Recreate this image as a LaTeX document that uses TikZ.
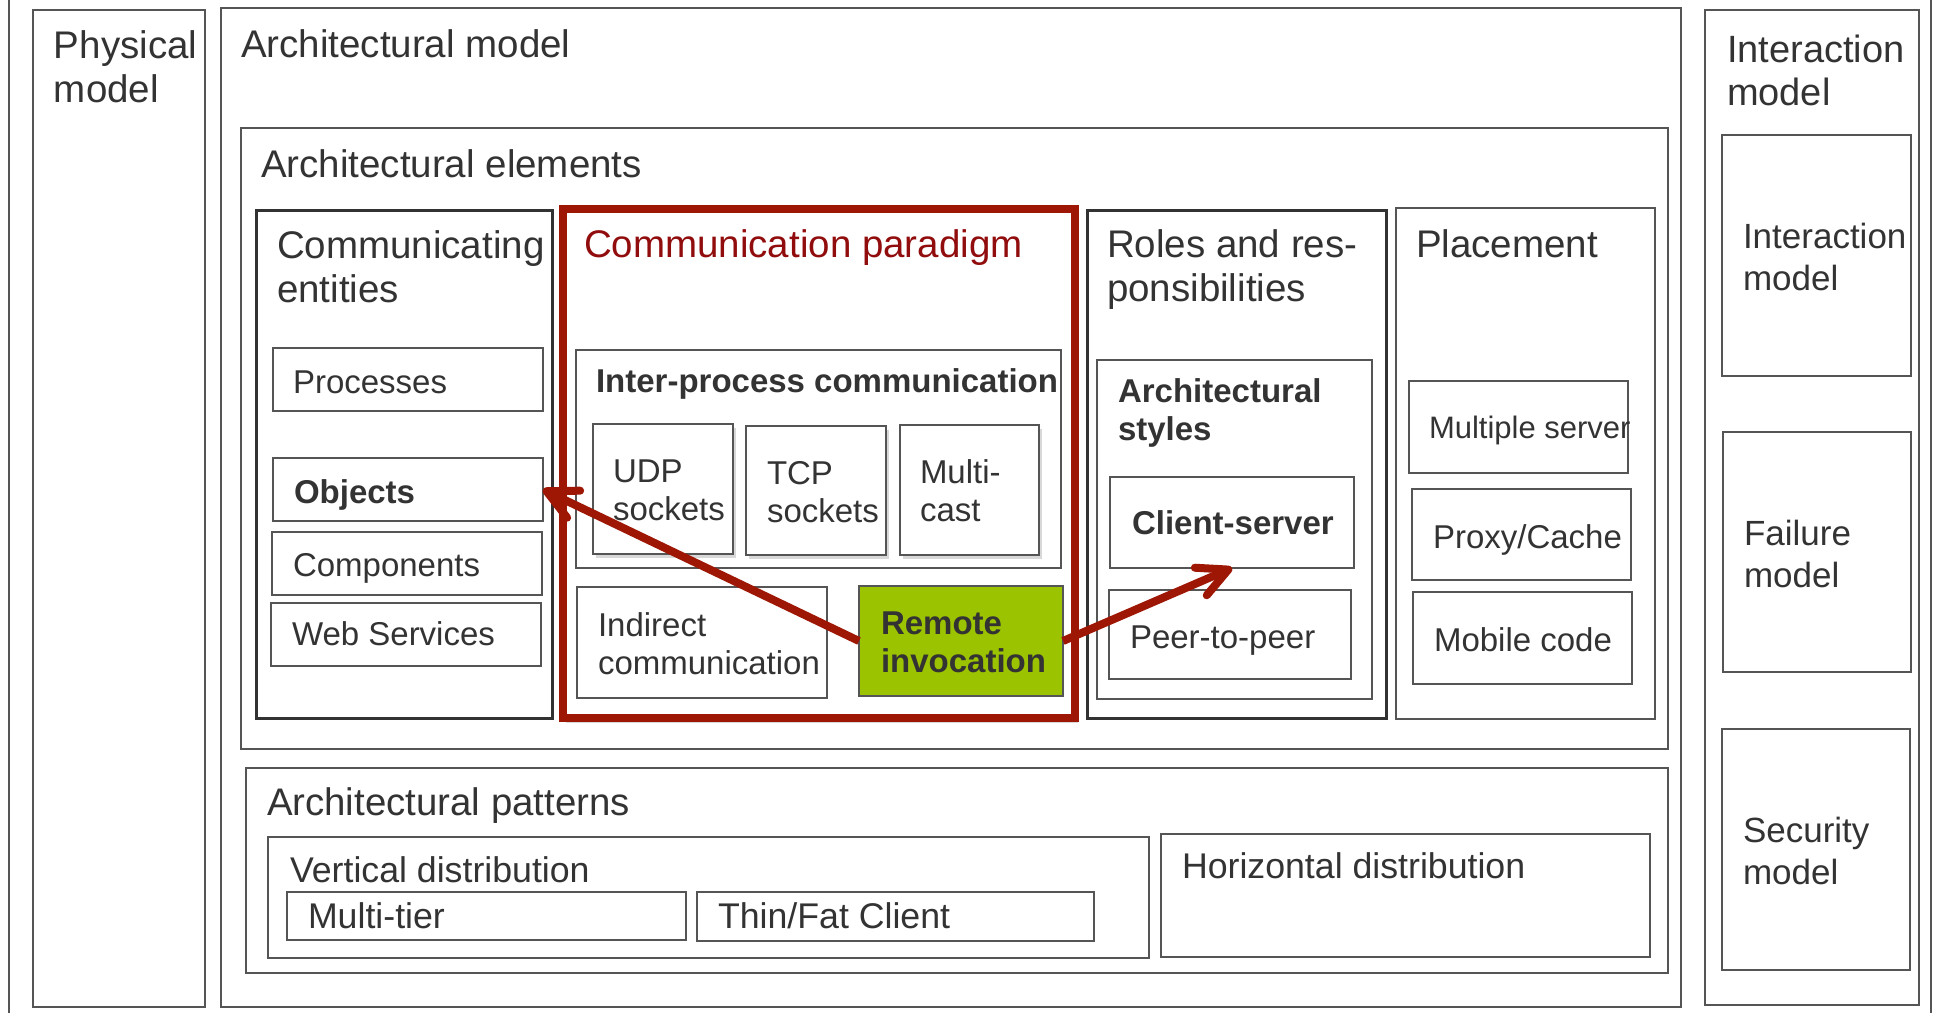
\documentclass[tikz,border=0pt]{standalone}
\usepackage{fontspec}
\setmainfont{Liberation Sans}
\usetikzlibrary{fit,arrows.meta,shadows}
\definecolor{tg}{RGB}{51,51,51}
\definecolor{lg}{RGB}{85,85,85}
\definecolor{dg}{RGB}{50,50,50}
\definecolor{redc}{RGB}{158,22,4}
\definecolor{titlered}{RGB}{145,12,12}
\definecolor{greenc}{RGB}{156,195,0}
\newcommand{\twolines}[2]{\vtop{\hbox{#1}\hbox{#2}}}
\begin{document}
\begin{tikzpicture}[x=0.5pt,y=-0.5pt,
  box/.style={draw=lg, line width=0.8pt, inner sep=0pt, outer sep=0pt},
  thickbox/.style={box, draw=dg, line width=1.5pt},
  midbox/.style={box, line width=1.1pt},
  shbox/.style={box, fill=white, drop shadow={shadow xshift=1.5pt, shadow yshift=-2pt, opacity=0.3}},
  redbox/.style={box, draw=redc, line width=4pt, fill=white, drop shadow={shadow xshift=1.5pt, shadow yshift=-2.5pt, opacity=0.3}},
  greenbox/.style={box, fill=greenc},
  lbl/.style={inner sep=0pt, outer sep=0pt, anchor=base west, text=tg},
  ft/.style={lbl, font=\fontsize{19.25pt}{22pt}\selectfont},
  fi/.style={lbl, font=\fontsize{16.5pt}{19pt}\selectfont},
  fib/.style={lbl, font=\fontsize{16.5pt}{19pt}\selectfont\bfseries},
  fbt/.style={lbl, font=\fontsize{17.85pt}{21pt}\selectfont},
  fr/.style={lbl, font=\fontsize{17.5pt}{21pt}\selectfont},
  redarrow/.style={draw=redc, line width=4pt, -{Straight Barb[length=15pt, width=15pt, round]}}
]
\useasboundingbox (0,0) rectangle (1934,1013);
\fill[white] (0,0) rectangle (1934,1013);
\draw[lg, line width=0.8pt] (9,0) -- (9,1013);
\draw[lg, line width=0.8pt] (1931,0) -- (1931,1013);

% physical model
\node[box, fit={(33,10) (205,1007)}] (phys) {};
\node[ft] (t-phys) at (54,58) {\twolines{Physical}{model}};

% architectural model
\node[box, fit={(221,8) (1681,1007)}] (archm) {};
\node[ft] (t-archm) at (241,57) {Architectural model};

% architectural elements
\node[box, fit={(241,128) (1668,749)}] (arche) {};
\node[ft] (t-arche) at (261,177) {Architectural elements};

% communicating entities
\node[thickbox, fit={(256,210) (552,718)}] (comm) {};
\node[ft] (t-comm) at (277,258) {\twolines{Communicating}{entities}};
\node[box, fit={(273,348) (543,411)}] (proc) {};
\node[fi] (t-proc) at (293,393) {Processes};
\node[box, fit={(273,458) (543,521)}] (obj) {};
\node[fib] (t-obj) at (294,503) {Objects};
\node[box, fit={(272,532) (542,595)}] (comp) {};
\node[fi] (t-comp) at (293,576) {Components};
\node[box, fit={(271,603) (541,666)}] (web) {};
\node[fi] (t-web) at (292,645) {Web Services};

% communication paradigm
\node[redbox, fit={(563,209) (1075,718)}] (para) {};
\node[ft, text=titlered] (t-para) at (584,257) {Communication paradigm};
\node[box, fit={(576,350) (1061,568)}] (ipc) {};
\node[fib] (t-ipc) at (596,392) {Inter-process communication};
\node[shbox, fit={(593,424) (733,554)}] (udp) {};
\node[fi] (t-udp) at (613,482) {\twolines{UDP}{sockets}};
\node[shbox, fit={(746,426) (886,555)}] (tcp) {};
\node[fi] (t-tcp) at (767,484) {\twolines{TCP}{sockets}};
\node[shbox, fit={(900,425) (1039,555)}] (mcast) {};
\node[fi] (t-mc) at (920,483) {\twolines{Multi-}{cast}};
\node[box, fit={(577,587) (827,698)}] (indir) {};
\node[fi] (t-ind) at (598,636) {\twolines{Indirect}{communication}};
\node[greenbox, fit={(859,586) (1063,696)}] (remote) {};
\node[fib] (t-rem) at (881,634) {\twolines{Remote}{invocation}};

% roles and responsibilities
\node[thickbox, fit={(1087,210) (1386,718)}] (roles) {};
\node[ft] (t-roles) at (1107,257) {\twolines{Roles and res-}{ponsibilities}};
\node[midbox, fit={(1097,360) (1372,699)}] (styles) {};
\node[fib] (t-sty) at (1118,402) {\twolines{Architectural}{styles}};
\node[box, fit={(1110,477) (1354,568)}] (cs) {};
\node[fib] (t-cs) at (1132,534) {Client-server};
\node[box, fit={(1109,590) (1351,679)}] (p2p) {};
\node[fi] (t-p2p) at (1130,648) {Peer-to-peer};

% placement
\node[box, fit={(1396,208) (1655,719)}] (place) {};
\node[ft] (t-place) at (1416,257) {Placement};
\node[box, fit={(1409,381) (1628,473)}] (msrv) {};
\node[fi, font=\fontsize{15.5pt}{19pt}\selectfont] (t-ms) at (1429,438) {Multiple server};
\node[box, fit={(1412,489) (1631,580)}] (proxy) {};
\node[fi] (t-proxy) at (1433,548) {Proxy/Cache};
\node[box, fit={(1413,592) (1632,684)}] (mobile) {};
\node[fi] (t-mob) at (1434,651) {Mobile code};

% architectural patterns
\node[box, fit={(246,768) (1668,973)}] (patt) {};
\node[lbl, font=\fontsize{19.2pt}{22pt}\selectfont] (t-patt) at (267,815) {Architectural patterns};
\node[box, fit={(268,837) (1149,958)}] (vert) {};
\node[fbt] (t-vert) at (290,882) {Vertical distribution};
\node[box, fit={(287,892) (686,940)}] (mtier) {};
\node[fbt] (t-mt) at (308,928) {Multi-tier};
\node[box, fit={(697,892) (1094,941)}] (thin) {};
\node[fbt] (t-thin) at (718,928) {Thin/Fat Client};
\node[box, fit={(1161,834) (1650,957)}] (horiz) {};
\node[fbt] (t-hor) at (1182,878) {Horizontal distribution};

% interaction model column
\node[box, fit={(1705,10) (1919,1005)}] (intm) {};
\node[lbl, font=\fontsize{19pt}{21.5pt}\selectfont] (t-int) at (1727,62) {\twolines{Interaction}{model}};
\node[box, fit={(1722,135) (1911,376)}] (intb) {};
\node[fr] (t-intb) at (1743,248) {\twolines{Interaction}{model}};
\node[box, fit={(1723,432) (1911,672)}] (fail) {};
\node[fr] (t-fail) at (1744,545) {\twolines{Failure}{model}};
\node[box, fit={(1722,729) (1910,970)}] (sec) {};
\node[fr] (t-sec) at (1743,842) {\twolines{Security}{model}};

% arrows
\draw[redarrow] (remote.west) -- (obj.east);
\draw[redarrow] (remote.east) -- (cs.south);
\end{tikzpicture}
\end{document}
